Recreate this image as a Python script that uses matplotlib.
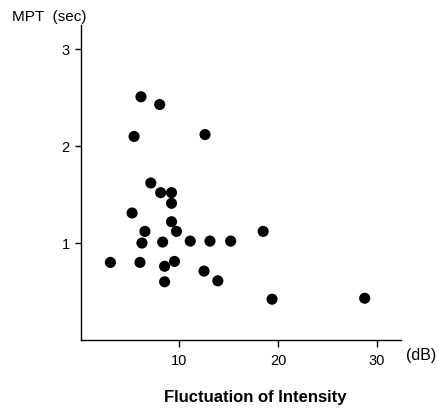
import matplotlib.pyplot as plt

# fluctuation of intensity (dB) vs MPT (sec)
fluct_db = [3.0, 5.2, 6.5, 6.2, 6.0, 8.3, 8.5, 8.5, 9.5, 9.7, 9.2, 9.2, 9.2, 8.1,
            7.1, 11.1, 13.1, 12.5, 13.9, 15.2, 18.5, 19.4, 28.8, 6.1, 8.0, 5.4, 12.6]
mpt_sec = [0.80, 1.31, 1.12, 1.00, 0.80, 1.01, 0.76, 0.60, 0.81, 1.12, 1.22, 1.41,
           1.52, 1.52, 1.62, 1.02, 1.02, 0.71, 0.61, 1.02, 1.12, 0.42, 0.43, 2.51,
           2.43, 2.10, 2.12]

x_ticks = [10, 20, 30]
y_ticks = [1, 2, 3]

plt.rcParams["font.family"] = ["Liberation Sans", "DejaVu Sans"]

fig = plt.figure(figsize=(4.37, 4.11), dpi=100)
ax = fig.add_axes([0.185, 0.173, 0.733, 0.766])

ax.scatter(fluct_db, mpt_sec, s=64, color="black", edgecolors="none")

ax.set_xlim(0, 32.5)
ax.set_ylim(0, 3.25)
ax.set_xticks(x_ticks)
ax.set_yticks(y_ticks)
ax.tick_params(axis="both", direction="out", length=4, width=1, labelsize=10.5, pad=4)
ax.tick_params(axis="x", length=5, pad=5)

for side in ["top", "right"]:
    ax.spines[side].set_visible(False)
for side in ["left", "bottom"]:
    ax.spines[side].set_linewidth(1.0)

# labels placed like in the original print
fig.text(12 / 437, 1 - 17 / 411, "MPT  (sec)", fontsize=11, ha="left", va="center")
fig.text(406 / 437, 1 - 355 / 411, "(dB)", fontsize=11.5, ha="left", va="center")
fig.text(255 / 437, 1 - 397 / 411, "Fluctuation of Intensity", fontsize=12,
         fontweight="bold", ha="center", va="center")

fig.savefig("out.png", dpi=100)
